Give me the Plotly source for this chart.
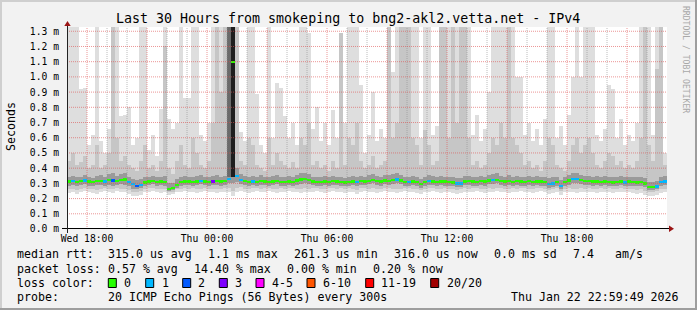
import plotly.graph_objects as go
import pandas as pd

# ---------------- data (ms), 12-minute bins from Wed 17:00 ----------------
median = [
    0.312, 0.315, 0.31, 0.314, 0.318, 0.312, 0.31, 0.315, 0.316, 0.313,
    0.32, 0.318, 0.315, 0.322, 0.325, 0.31, 0.295, 0.285, 0.29, 0.305,
    0.312, 0.314, 0.31, 0.312, 0.31, 0.265, 0.268, 0.29, 0.31, 0.312,
    0.313, 0.31, 0.312, 0.316, 0.312, 0.31, 0.313, 0.315, 0.312, 0.314,
    0.33, 1.1, 0.35, 0.32, 0.315, 0.31, 0.312, 0.31, 0.316, 0.313,
    0.31, 0.312, 0.315, 0.31, 0.308, 0.312, 0.31, 0.318, 0.325, 0.33,
    0.32, 0.312, 0.31, 0.309, 0.312, 0.31, 0.314, 0.312, 0.31, 0.305,
    0.31, 0.312, 0.31, 0.314, 0.312, 0.316, 0.322, 0.315, 0.312, 0.318,
    0.315, 0.32, 0.325, 0.318, 0.31, 0.31, 0.312, 0.308, 0.295, 0.31,
    0.316, 0.312, 0.31, 0.313, 0.312, 0.31, 0.306, 0.3, 0.3, 0.312,
    0.314, 0.312, 0.31, 0.315, 0.312, 0.318, 0.32, 0.322, 0.315, 0.312,
    0.316, 0.31, 0.314, 0.312, 0.31, 0.315, 0.31, 0.313, 0.312, 0.31,
    0.295, 0.3, 0.31, 0.285, 0.31, 0.318, 0.33, 0.328, 0.32, 0.316,
    0.315, 0.312, 0.312, 0.31, 0.313, 0.308, 0.305, 0.31, 0.312, 0.306,
    0.312, 0.31, 0.305, 0.31, 0.3, 0.275, 0.275, 0.28, 0.31, 0.312,
]
loss = [
    0, 1, 0, 0, 1, 0, 0, 0, 0, 1,
    0, 2, 0, 0, 0, 1, 1, 2, 1, 0,
    0, 0, 0, 0, 0, 0, 0, 0, 0, 0,
    0, 0, 0, 1, 0, 0, 3, 0, 0, 0,
    1, 0, 1, 1, 0, 0, 1, 0, 0, 0,
    0, 0, 0, 0, 0, 0, 0, 0, 0, 0,
    0, 0, 0, 0, 0, 0, 0, 0, 0, 0,
    0, 0, 1, 0, 0, 0, 0, 0, 0, 0,
    0, 0, 1, 0, 0, 1, 0, 0, 0, 0,
    1, 0, 0, 0, 0, 0, 0, 1, 1, 0,
    0, 0, 0, 0, 0, 0, 1, 0, 0, 0,
    0, 0, 0, 0, 0, 0, 0, 0, 0, 0,
    1, 1, 0, 1, 0, 0, 1, 1, 0, 0,
    0, 0, 0, 0, 0, 0, 0, 0, 0, 1,
    0, 0, 0, 0, 0, 0, 0, 1, 1, 1,
]
smoke_min = [
    0.235, 0.24, 0.23, 0.245, 0.25, 0.24, 0.235, 0.23, 0.245, 0.25,
    0.24, 0.235, 0.25, 0.245, 0.24, 0.23, 0.22, 0.215, 0.225, 0.24,
    0.245, 0.25, 0.24, 0.235, 0.245, 0.225, 0.23, 0.24, 0.245, 0.25,
    0.24, 0.245, 0.235, 0.24, 0.25, 0.245, 0.24, 0.235, 0.24, 0.245,
    0.24, 0.22, 0.245, 0.25, 0.24, 0.235, 0.245, 0.25, 0.24, 0.245,
    0.25, 0.24, 0.235, 0.245, 0.24, 0.25, 0.245, 0.24, 0.235, 0.245,
    0.24, 0.245, 0.25, 0.24, 0.235, 0.245, 0.25, 0.24, 0.245, 0.235,
    0.245, 0.24, 0.23, 0.245, 0.25, 0.24, 0.245, 0.235, 0.24, 0.25,
    0.245, 0.24, 0.235, 0.24, 0.25, 0.245, 0.24, 0.235, 0.23, 0.24,
    0.245, 0.25, 0.24, 0.235, 0.245, 0.24, 0.235, 0.23, 0.235, 0.245,
    0.24, 0.245, 0.25, 0.24, 0.235, 0.245, 0.24, 0.25, 0.245, 0.24,
    0.235, 0.245, 0.24, 0.25, 0.245, 0.24, 0.235, 0.245, 0.25, 0.24,
    0.23, 0.235, 0.245, 0.225, 0.24, 0.245, 0.24, 0.235, 0.245, 0.24,
    0.245, 0.24, 0.235, 0.245, 0.24, 0.245, 0.235, 0.24, 0.245, 0.24,
    0.24, 0.235, 0.23, 0.235, 0.225, 0.22, 0.22, 0.225, 0.235, 0.24,
]
smoke_p10 = [
    0.26, 0.265, 0.255, 0.265, 0.27, 0.26, 0.26, 0.255, 0.265, 0.27,
    0.265, 0.26, 0.27, 0.265, 0.265, 0.255, 0.245, 0.24, 0.25, 0.265,
    0.27, 0.27, 0.265, 0.26, 0.265, 0.24, 0.245, 0.26, 0.265, 0.27,
    0.265, 0.27, 0.26, 0.265, 0.27, 0.265, 0.265, 0.26, 0.265, 0.27,
    0.27, 0.25, 0.27, 0.275, 0.265, 0.26, 0.27, 0.27, 0.265, 0.27,
    0.27, 0.265, 0.26, 0.27, 0.265, 0.27, 0.27, 0.265, 0.26, 0.27,
    0.265, 0.27, 0.27, 0.265, 0.26, 0.27, 0.27, 0.265, 0.27, 0.26,
    0.27, 0.265, 0.255, 0.27, 0.27, 0.265, 0.27, 0.26, 0.265, 0.27,
    0.27, 0.265, 0.26, 0.265, 0.27, 0.27, 0.265, 0.26, 0.255, 0.265,
    0.27, 0.27, 0.265, 0.26, 0.27, 0.265, 0.26, 0.255, 0.26, 0.27,
    0.265, 0.27, 0.27, 0.265, 0.26, 0.27, 0.265, 0.27, 0.27, 0.265,
    0.26, 0.27, 0.265, 0.27, 0.27, 0.265, 0.26, 0.27, 0.27, 0.265,
    0.255, 0.26, 0.27, 0.25, 0.265, 0.27, 0.265, 0.26, 0.27, 0.265,
    0.27, 0.265, 0.26, 0.27, 0.265, 0.27, 0.26, 0.265, 0.27, 0.265,
    0.265, 0.26, 0.255, 0.26, 0.25, 0.245, 0.245, 0.25, 0.26, 0.265,
]
smoke_q1 = [
    0.285, 0.29, 0.28, 0.29, 0.295, 0.285, 0.285, 0.29, 0.29, 0.285,
    0.29, 0.285, 0.29, 0.295, 0.29, 0.28, 0.265, 0.26, 0.27, 0.285,
    0.29, 0.295, 0.285, 0.29, 0.285, 0.25, 0.255, 0.27, 0.285, 0.29,
    0.29, 0.285, 0.29, 0.295, 0.29, 0.285, 0.29, 0.29, 0.285, 0.29,
    0.3, 0.3, 0.31, 0.295, 0.29, 0.285, 0.29, 0.285, 0.29, 0.29,
    0.285, 0.29, 0.295, 0.285, 0.28, 0.29, 0.285, 0.29, 0.295, 0.3,
    0.295, 0.29, 0.285, 0.285, 0.29, 0.285, 0.29, 0.29, 0.285, 0.28,
    0.285, 0.29, 0.285, 0.29, 0.29, 0.295, 0.3, 0.29, 0.285, 0.295,
    0.29, 0.295, 0.3, 0.295, 0.285, 0.285, 0.29, 0.285, 0.27, 0.285,
    0.29, 0.29, 0.285, 0.29, 0.285, 0.285, 0.28, 0.275, 0.275, 0.29,
    0.29, 0.285, 0.285, 0.29, 0.285, 0.295, 0.295, 0.3, 0.29, 0.285,
    0.29, 0.285, 0.29, 0.285, 0.285, 0.29, 0.285, 0.29, 0.285, 0.285,
    0.27, 0.275, 0.285, 0.265, 0.285, 0.29, 0.3, 0.3, 0.295, 0.29,
    0.29, 0.285, 0.29, 0.285, 0.29, 0.285, 0.28, 0.285, 0.29, 0.28,
    0.285, 0.285, 0.28, 0.285, 0.275, 0.255, 0.255, 0.26, 0.285, 0.29,
]
smoke_q3 = [
    0.345, 0.35, 0.34, 0.345, 0.355, 0.34, 0.335, 0.35, 0.355, 0.345,
    0.36, 0.365, 0.35, 0.36, 0.365, 0.345, 0.33, 0.32, 0.33, 0.34,
    0.345, 0.35, 0.34, 0.345, 0.35, 0.3, 0.305, 0.33, 0.345, 0.35,
    0.345, 0.34, 0.35, 0.355, 0.345, 0.34, 0.35, 0.355, 0.345, 0.35,
    1.4, 1.4, 0.4, 0.36, 0.35, 0.345, 0.35, 0.34, 0.355, 0.345,
    0.34, 0.35, 0.355, 0.345, 0.34, 0.35, 0.345, 0.355, 0.365, 0.37,
    0.36, 0.345, 0.34, 0.345, 0.35, 0.34, 0.35, 0.345, 0.34, 0.335,
    0.345, 0.35, 0.34, 0.35, 0.345, 0.355, 0.36, 0.35, 0.345, 0.355,
    0.355, 0.36, 0.365, 0.355, 0.345, 0.345, 0.35, 0.34, 0.33, 0.345,
    0.355, 0.35, 0.345, 0.35, 0.345, 0.34, 0.345, 0.335, 0.335, 0.35,
    0.35, 0.345, 0.345, 0.35, 0.345, 0.355, 0.36, 0.365, 0.35, 0.345,
    0.355, 0.345, 0.35, 0.345, 0.34, 0.35, 0.345, 0.35, 0.345, 0.345,
    0.335, 0.34, 0.345, 0.325, 0.345, 0.355, 0.37, 0.365, 0.355, 0.35,
    0.35, 0.345, 0.35, 0.345, 0.35, 0.345, 0.34, 0.345, 0.35, 0.34,
    0.345, 0.345, 0.34, 0.345, 0.335, 0.31, 0.31, 0.315, 0.345, 0.35,
]
smoke_p90 = [
    0.45, 0.5, 0.42, 0.44, 0.48, 0.4, 0.42, 0.55, 0.4, 0.42,
    0.5, 1.4, 0.6, 0.45, 0.48, 0.42, 0.4, 0.38, 0.45, 0.55,
    0.4, 0.42, 0.38, 0.45, 1.2, 0.4, 0.36, 0.45, 0.55, 0.42,
    0.4, 0.6, 0.5, 0.42, 0.4, 0.45, 0.7, 1.4, 0.9, 1.4,
    1.4, 1.4, 1.4, 0.45, 0.42, 0.6, 0.55, 0.42, 0.4, 0.38,
    0.6, 0.42, 0.5, 0.45, 0.42, 0.4, 0.44, 0.4, 0.6, 0.55,
    0.7, 0.42, 0.45, 0.4, 0.42, 0.38, 0.45, 0.4, 1.29, 0.42,
    0.6, 0.55, 0.7, 0.45, 0.4, 0.42, 0.48, 0.4, 0.42, 0.45,
    1.4, 0.6, 0.7, 1.4, 1.4, 1.4, 0.6, 0.55, 0.42, 0.65,
    0.55, 0.42, 0.45, 1.4, 1.4, 0.6, 1.4, 0.7, 1.4, 1.4,
    0.6, 0.42, 0.45, 0.4, 0.42, 0.5, 0.6, 0.55, 0.7, 0.6,
    1.4, 0.6, 0.55, 0.5, 0.42, 0.45, 0.4, 0.42, 0.38, 0.45,
    0.6, 0.55, 0.42, 0.4, 0.38, 0.45, 0.55, 0.6, 0.5, 0.55,
    0.6, 0.5, 0.42, 0.4, 0.45, 0.5, 0.48, 0.42, 0.45, 0.4,
    0.42, 0.4, 0.45, 0.6, 1.4, 0.55, 0.45, 1.05, 1.4, 0.42,
]
smoke_max = [
    1.4, 1.4, 1.4, 0.92, 0.93, 0.55, 0.62, 1.4, 0.58, 0.5,
    0.66, 1.4, 1.4, 0.74, 0.75, 0.8, 0.55, 0.6, 1.4, 1.4,
    0.52, 0.62, 0.48, 0.79, 1.4, 0.72, 0.66, 0.7, 1.4, 0.86,
    0.86, 1.4, 1.4, 0.62, 0.58, 0.7, 1.4, 1.4, 1.4, 1.4,
    1.4, 1.4, 1.4, 0.64, 0.58, 1.4, 1.4, 0.89, 0.55, 0.5,
    1.4, 0.6, 0.96, 0.93, 0.74, 0.6, 0.7, 0.55, 1.4, 1.4,
    1.29, 0.66, 0.8, 0.58, 0.7, 0.55, 0.78, 0.6, 1.29, 0.7,
    1.4, 1.4, 1.4, 0.95, 0.5, 0.62, 0.9, 0.58, 0.66, 0.6,
    1.05, 1.03, 1.4, 1.4, 1.4, 1.4, 1.4, 1.4, 0.6, 1.4,
    1.4, 0.62, 0.68, 1.4, 1.4, 1.4, 1.4, 1.4, 1.4, 1.4,
    1.4, 0.62, 0.75, 0.58, 0.66, 0.9, 1.4, 1.4, 1.4, 1.4,
    1.4, 1.4, 1.0, 1.0, 0.62, 0.7, 0.58, 0.66, 0.55, 0.72,
    1.4, 1.4, 0.6, 0.68, 0.55, 0.75, 1.0, 1.4, 1.0, 1.4,
    1.4, 1.4, 0.62, 0.58, 0.66, 0.95, 0.92, 0.6, 0.72, 0.55,
    0.62, 0.58, 0.7, 1.4, 1.4, 1.4, 0.62, 1.4, 1.4, 0.5,
]
# dense dark spike (bins 40-41)
spike_bins = [40, 41]
spike_lo = [0.34, 0.34]
spike_hi = [1.4, 1.4]
spike_colors = ["#6a6a6a", "#1e1e1e"]

loss_labels = ["0", "1", "2", "3", "4-5", "6-10", "11-19", "20/20"]
loss_colors = ["#26ff00", "#00b8ff", "#0059ff", "#7e00ff", "#ff00ff", "#ff5500", "#ff0000", "#a10000"]

y_ticks = [0.0, 0.1, 0.2, 0.3, 0.4, 0.5, 0.6, 0.7, 0.8, 0.9, 1.0, 1.1, 1.2, 1.3]
y_ticktext = ["%.1f m" % v for v in y_ticks]

title = "Last 30 Hours from smokeping to bng2-akl2.vetta.net - IPv4"
legend_rows = [
    [("median rtt:", 16), ("315.0 us avg", 107.3), ("1.1 ms max", 207.3), ("261.3 us min", 293.3),
     ("316.0 us now", 393.3), ("0.0 ms sd", 493.3), ("7.4", 572.3), ("am/s", 614)],
    [("packet loss:", 16), ("0.57 % avg", 107.3), ("14.40 % max", 192.7), ("0.00 % min", 286),
     ("0.20 % now", 372.3)],
    [("loss color:", 16)],
    [("probe:", 16), ("20 ICMP Echo Pings (56 Bytes) every 300s", 107.3)],
]
loss_box_x = [108.3, 145.7, 182.7, 219.3, 256, 307, 365.7, 430.7]
loss_lbl_x = [123.3, 160.7, 197.3, 234.3, 271, 322, 380.3, 445.7]
timestamp = "Thu Jan 22 22:59:49 2026"

# ---------------- geometry helpers ----------------
W, H = 697, 310
PL, PR, PT, PB = 67, 667, 27, 229


def px(x):
    return (x - PL) / (PR - PL)


def py(y):
    return (PB - y) / (PB - PT)


MONO = "DejaVu Sans Mono"
bin_min = 12
start = pd.Timestamp("2026-01-21 17:00")
end = start + pd.Timedelta(hours=30)
times = [start + pd.Timedelta(minutes=bin_min * (i + 0.5)) for i in range(len(median))]
wms = bin_min * 60 * 1000

fig = go.Figure()


def band(lo, hi, color, xs=None):
    xs = times if xs is None else xs
    return go.Bar(x=xs, y=[h - l for l, h in zip(lo, hi)], base=lo, width=wms,
                  marker=dict(color=color, line=dict(width=0)),
                  hoverinfo="skip", showlegend=False)


fig.add_trace(band(smoke_min, smoke_max, "#dedede"))
fig.add_trace(band(smoke_p10, smoke_p90, "#c6c6c6"))
fig.add_trace(band(smoke_q1, smoke_q3, "#9a9a9a"))
fig.add_trace(band(spike_lo, spike_hi, spike_colors, [times[b] for b in spike_bins]))
fig.add_trace(go.Bar(x=times, y=[0.015] * len(median), base=[m - 0.0075 for m in median], width=wms,
                     marker=dict(color=[loss_colors[c] for c in loss], line=dict(width=0)),
                     hoverinfo="skip", showlegend=False))

shapes = []
# 3-D frame edges
shapes.append(dict(type="rect", xref="paper", yref="paper", x0=px(0), x1=px(W), y0=py(2), y1=py(0),
                   line=dict(width=0), fillcolor="#cfcfcf"))
shapes.append(dict(type="rect", xref="paper", yref="paper", x0=px(0), x1=px(2), y0=py(H), y1=py(0),
                   line=dict(width=0), fillcolor="#cfcfcf"))
shapes.append(dict(type="rect", xref="paper", yref="paper", x0=px(0), x1=px(W), y0=py(H), y1=py(H - 2),
                   line=dict(width=0), fillcolor="#9e9e9e"))
shapes.append(dict(type="rect", xref="paper", yref="paper", x0=px(W - 2), x1=px(W), y0=py(H), y1=py(0),
                   line=dict(width=0), fillcolor="#9e9e9e"))
# grid above data
for h in range(1, 30):
    t = start + pd.Timedelta(hours=h)
    major = (h - 1) % 3 == 0
    shapes.append(dict(type="line", xref="x", yref="paper", x0=t, x1=t, y0=0, y1=1, layer="above",
                       line=dict(color="rgba(222,80,80,0.6)" if major else "rgba(143,143,143,0.6)",
                                 width=1, dash="1px,1px")))
for v in y_ticks[1:]:
    shapes.append(dict(type="line", xref="paper", yref="y", x0=0, x1=1, y0=v, y1=v, layer="above",
                       line=dict(color="rgba(222,80,80,0.6)", width=1, dash="1px,1px")))
# axes + arrows
shapes.append(dict(type="line", xref="paper", yref="paper", x0=px(62), x1=px(670), y0=py(228.5), y1=py(228.5),
                   line=dict(color="#000000", width=1), layer="above"))
shapes.append(dict(type="line", xref="paper", yref="paper", x0=px(67.5), x1=px(67.5), y0=py(233), y1=py(24),
                   line=dict(color="#222222", width=1), layer="above"))
shapes.append(dict(type="path", xref="paper", yref="paper", layer="above",
                   path="M %f,%f L %f,%f L %f,%f Z" % (px(669), py(225.5), px(669), py(232), px(674), py(228.7)),
                   fillcolor="#9b1515", line=dict(width=0)))
shapes.append(dict(type="path", xref="paper", yref="paper", layer="above",
                   path="M %f,%f L %f,%f L %f,%f Z" % (px(64.3), py(26), px(70.7), py(26), px(67.5), py(21)),
                   fillcolor="#9b1515", line=dict(width=0)))
# legend boxes
for bx, col in zip(loss_box_x, loss_colors):
    shapes.append(dict(type="rect", xref="paper", yref="paper", x0=px(bx), x1=px(bx + 8),
                       y0=py(287.5), y1=py(278.5), fillcolor=col, line=dict(color="#000000", width=1)))

ann = []
ann.append(dict(text=title, x=px(347.5), y=py(19), xref="paper", yref="paper", showarrow=False,
                xanchor="center", yanchor="middle", font=dict(family=MONO, size=13.3, color="#000")))
ann.append(dict(text="Seconds", x=px(11), y=py(127), xref="paper", yref="paper", showarrow=False,
                textangle=-90, xanchor="center", yanchor="middle", font=dict(family=MONO, size=11.6, color="#000")))
ann.append(dict(text="RRDTOOL / TOBI OETIKER", x=px(686), y=py(59), xref="paper", yref="paper", showarrow=False,
                textangle=90, xanchor="center", yanchor="middle", font=dict(family=MONO, size=8.1, color="#a8a8a8")))
row_y = [254.5, 268.5, 282.5, 296.5]
for ry, row in zip(row_y, legend_rows):
    for txt, tx in row:
        ann.append(dict(text=txt, x=px(tx - 1), y=py(ry), xref="paper", yref="paper", showarrow=False,
                        xanchor="left", yanchor="middle", font=dict(family=MONO, size=11.6, color="#000")))
for lbl, lx in zip(loss_labels, loss_lbl_x):
    ann.append(dict(text=lbl, x=px(lx - 1), y=py(282.5), xref="paper", yref="paper", showarrow=False,
                    xanchor="left", yanchor="middle", font=dict(family=MONO, size=11.6, color="#000")))
ann.append(dict(text=timestamp, x=px(681), y=py(296.5), xref="paper", yref="paper", showarrow=False,
                xanchor="right", yanchor="middle", font=dict(family=MONO, size=11.6, color="#000")))

fig.update_layout(
    width=W, height=H, autosize=False,
    margin=dict(l=PL, r=W - PR, t=PT, b=H - PB, pad=0),
    paper_bgcolor="#f2f2f2", plot_bgcolor="#ffffff",
    barmode="overlay", bargap=0, showlegend=False,
    shapes=shapes, annotations=ann,
    xaxis=dict(type="date", range=[start, end], showgrid=False, zeroline=False, showline=False,
               ticks="", tick0="2026-01-21 18:00", dtick=6 * 3600 * 1000, tickformat="%a %H:%M",
               tickfont=dict(family=MONO, size=9.7, color="#000"), ticklabelstandoff=2),
    yaxis=dict(range=[0, 1.328], showgrid=False, zeroline=False, showline=False, ticks="",
               tickvals=y_ticks, ticktext=y_ticktext, ticklabelstandoff=7,
               tickfont=dict(family=MONO, size=9.7, color="#000")),
)

fig.write_html("out.html")
